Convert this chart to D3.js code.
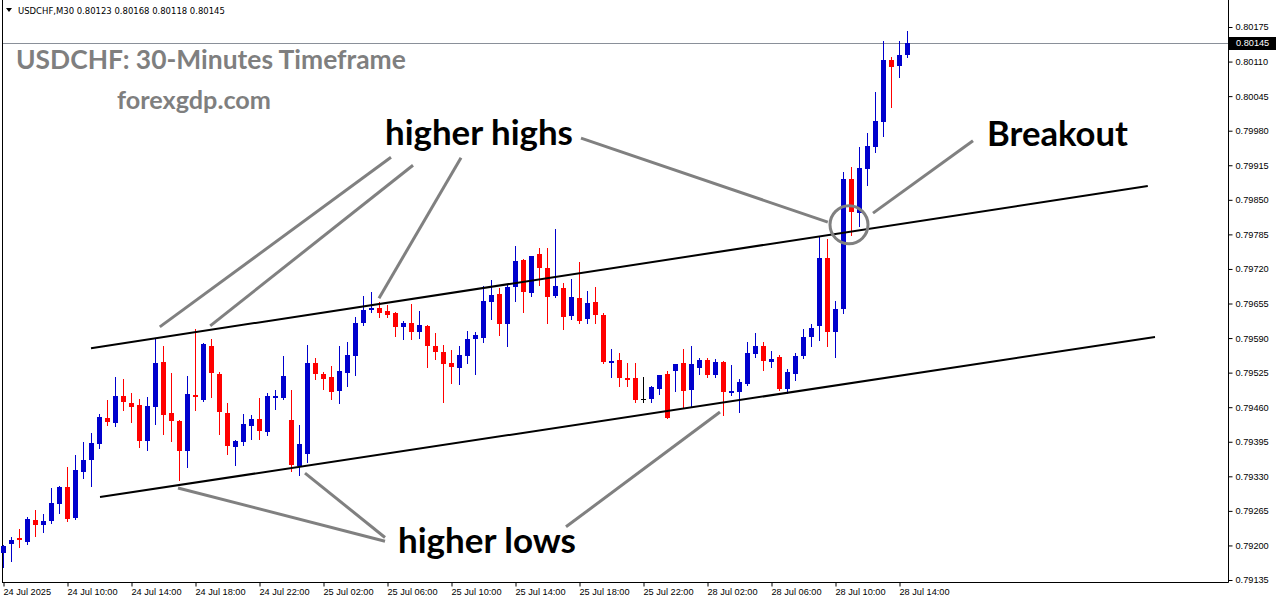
<!DOCTYPE html>
<html><head><meta charset="utf-8">
<script src="https://cdn.jsdelivr.net/npm/d3@7"></script>
<style>html,body{margin:0;padding:0;background:#fff;overflow:hidden}</style>
</head><body><svg id="c" width="1276" height="604"></svg>
<script>
// ---- data (USDCHF, M30) ----
const opens = [0.79186,0.79203,0.79214,0.79206,0.79248,0.79239,0.79246,0.79278,0.79310,0.79252,
0.79338,0.79361,0.79391,0.79440,0.79430,0.79481,0.79468,0.79464,0.79396,0.79460,
0.79545,0.79449,0.79434,0.79378,0.79482,0.79474,0.79575,0.79522,0.79449,0.79385,
0.79395,0.79425,0.79438,0.79413,0.79478,0.79477,0.79436,0.79349,0.79372,0.79543,
0.79522,0.79517,0.79490,0.79524,0.79556,0.79618,0.79643,0.79647,0.79641,0.79637,
0.79611,0.79618,0.79601,0.79613,0.79575,0.79564,0.79543,0.79534,0.79556,0.79588,
0.79590,0.79658,0.79673,0.79616,0.79686,0.79737,0.79675,0.79748,0.79722,0.79669,
0.79684,0.79631,0.79665,0.79626,0.79658,0.79633,0.79543,0.79549,0.79515,0.79515,
0.79475,0.79475,0.79494,0.79522,0.79528,0.79543,0.79492,0.79534,0.79549,0.79521,
0.79545,0.79487,0.79489,0.79504,0.79560,0.79575,0.79545,0.79554,0.79494,0.79522,
0.79556,0.79592,0.79613,0.79741,0.79601,0.79645,0.79889,0.79825,0.79908,0.79949,
0.79996,0.80113,0.80102,0.80123];
const highs = [0.79201,0.79216,0.79231,0.79254,0.79267,0.79259,0.79308,0.79312,0.79347,0.79370,
0.79395,0.79412,0.79447,0.79474,0.79517,0.79513,0.79487,0.79475,0.79479,0.79588,
0.79575,0.79524,0.79436,0.79519,0.79607,0.79580,0.79588,0.79526,0.79468,0.79398,
0.79447,0.79445,0.79477,0.79487,0.79493,0.79556,0.79492,0.79426,0.79577,0.79552,
0.79526,0.79537,0.79575,0.79583,0.79630,0.79669,0.79677,0.79658,0.79652,0.79639,
0.79622,0.79654,0.79641,0.79615,0.79600,0.79577,0.79568,0.79575,0.79603,0.79601,
0.79688,0.79699,0.79684,0.79692,0.79763,0.79738,0.79744,0.79759,0.79759,0.79795,
0.79694,0.79701,0.79733,0.79678,0.79686,0.79637,0.79569,0.79562,0.79543,0.79543,
0.79517,0.79500,0.79521,0.79528,0.79541,0.79569,0.79575,0.79552,0.79552,0.79551,
0.79546,0.79539,0.79513,0.79583,0.79600,0.79583,0.79566,0.79558,0.79532,0.79562,
0.79607,0.79616,0.79780,0.79776,0.79660,0.79902,0.79912,0.79949,0.79976,0.80053,
0.80149,0.80119,0.80149,0.80168];
const lows = [0.79159,0.79171,0.79198,0.79203,0.79218,0.79225,0.79243,0.79261,0.79246,0.79250,
0.79327,0.79312,0.79383,0.79426,0.79425,0.79455,0.79432,0.79385,0.79379,0.79428,
0.79410,0.79396,0.79323,0.79347,0.79455,0.79472,0.79479,0.79410,0.79372,0.79351,
0.79389,0.79400,0.79400,0.79408,0.79457,0.79475,0.79340,0.79332,0.79357,0.79513,
0.79494,0.79475,0.79468,0.79500,0.79521,0.79615,0.79639,0.79630,0.79630,0.79594,
0.79588,0.79588,0.79590,0.79536,0.79551,0.79470,0.79505,0.79504,0.79543,0.79522,
0.79583,0.79626,0.79596,0.79575,0.79660,0.79639,0.79669,0.79690,0.79618,0.79667,
0.79607,0.79626,0.79618,0.79618,0.79618,0.79543,0.79517,0.79500,0.79500,0.79470,
0.79470,0.79470,0.79485,0.79439,0.79490,0.79460,0.79460,0.79522,0.79517,0.79517,
0.79445,0.79483,0.79451,0.79502,0.79554,0.79530,0.79536,0.79493,0.79487,0.79511,
0.79552,0.79575,0.79586,0.79575,0.79554,0.79637,0.79784,0.79801,0.79878,0.79940,
0.79970,0.80025,0.80081,0.80118];
const closes = [0.79199,0.79210,0.79211,0.79250,0.79239,0.79246,0.79280,0.79310,0.79250,0.79342,
0.79361,0.79393,0.79442,0.79432,0.79481,0.79470,0.79460,0.79396,0.79462,0.79543,
0.79445,0.79434,0.79378,0.79485,0.79480,0.79578,0.79524,0.79451,0.79387,0.79396,
0.79428,0.79438,0.79415,0.79481,0.79481,0.79519,0.79351,0.79391,0.79543,0.79522,
0.79513,0.79489,0.79528,0.79558,0.79618,0.79643,0.79647,0.79637,0.79633,0.79611,
0.79618,0.79601,0.79615,0.79575,0.79564,0.79541,0.79536,0.79558,0.79588,0.79596,
0.79660,0.79671,0.79616,0.79686,0.79735,0.79677,0.79744,0.79722,0.79667,0.79688,
0.79630,0.79667,0.79622,0.79656,0.79633,0.79545,0.79547,0.79515,0.79511,0.79474,
0.79475,0.79498,0.79521,0.79440,0.79541,0.79490,0.79541,0.79549,0.79521,0.79545,
0.79489,0.79490,0.79507,0.79562,0.79575,0.79547,0.79551,0.79494,0.79526,0.79556,
0.79592,0.79609,0.79741,0.79601,0.79645,0.79889,0.79827,0.79910,0.79951,0.79998,
0.80113,0.80100,0.80122,0.80145];

const timeLabels = ["24 Jul 2025","24 Jul 10:00","24 Jul 14:00","24 Jul 18:00","24 Jul 22:00",
"25 Jul 02:00","25 Jul 06:00","25 Jul 10:00","25 Jul 14:00","25 Jul 18:00","25 Jul 22:00",
"28 Jul 02:00","28 Jul 06:00","28 Jul 10:00","28 Jul 14:00"];
const timeTickIdx = [0,8,16,24,32,40,48,56,64,72,80,88,96,104,112];
const priceTicks = [0.80175,0.80110,0.80045,0.79980,0.79915,0.79850,0.79785,0.79720,0.79655,
0.79590,0.79525,0.79460,0.79395,0.79330,0.79265,0.79200,0.79135];
const lastPrice = 0.80145;

// channel lines [idx1, price1, idx2, price2]
const channelLines = [[11, 0.79571, 143.1, 0.79876], [12.125, 0.79291, 144, 0.79592]];
// gray pointer lines
const pointerLines = [
  [48.5, 0.79930, 19.6, 0.79611],
  [51.25, 0.79915, 25.9, 0.79613],
  [57.25, 0.79929, 47, 0.79665],
  [72.25, 0.79966, 103.1, 0.79808],
  [121.25, 0.79961, 108.75, 0.79825],
  [47.75, 0.79208, 21.875, 0.79308],
  [47.75, 0.79215, 37.75, 0.79336],
  [70.375, 0.79235, 89.625, 0.79451]
];
const breakoutCircle = [105.75, 0.79803];
const labels = [
  {t:"higher highs", i:47.75, p:0.79953, w:188},
  {t:"Breakout", i:123, p:0.79951, w:141},
  {t:"higher lows", i:49.375, p:0.79186, w:178}
];

// ---- drawing ----
const svg = d3.select("#c");
const W = 1276, H = 604, plotR = 1228, plotB = 582;
const x = d3.scaleLinear().domain([0, 113]).range([3, 907]);
const y = d3.scaleLinear().domain([0.79135, 0.80175]).range([580, 27]);
const n = opens.length;
const idx = d3.range(n);
const BLUE = "#0000CD", RED = "#FF0000";
const colorOf = i => closes[i] > opens[i] ? BLUE : (closes[i] < opens[i] ? RED : "#000");

function fit(sel, target) {
  const w = sel.node().getComputedTextLength();
  const fs = parseFloat(sel.attr("font-size"));
  sel.attr("font-size", fs * target / w);
}

// frame
svg.append("line").attr("x1",2.5).attr("x2",2.5).attr("y1",0).attr("y2",plotB+0.5).attr("stroke","#000");
svg.append("line").attr("x1",2).attr("x2",plotR+0.5).attr("y1",plotB+0.5).attr("y2",plotB+0.5).attr("stroke","#000");
svg.append("line").attr("x1",plotR+0.5).attr("x2",plotR+0.5).attr("y1",0).attr("y2",plotB+0.5).attr("stroke","#000");

// current price line
svg.append("line").attr("x1",3).attr("x2",plotR).attr("y1",Math.round(y(lastPrice))+0.5).attr("y2",Math.round(y(lastPrice))+0.5)
  .attr("stroke","#8a9099").attr("stroke-width",1);

// header
svg.append("path").attr("d","M6,8 L12,8 L9,12 Z").attr("fill","#000");
const hdr = svg.append("text").attr("x",18).attr("y",14).attr("font-family","Tahoma, 'DejaVu Sans', sans-serif")
  .attr("font-size",11).attr("fill","#000")
  .text("USDCHF,M30  " + [opens[n-1], highs[n-1], lows[n-1], closes[n-1]].map(d3.format(".5f")).join(" "));
fit(hdr, 207);

// title texts
const tt = svg.append("text").attr("x",16).attr("y",69).attr("font-family","Lato, 'Open Sans', sans-serif")
  .attr("font-weight",700).attr("font-size",26).attr("fill","#7f7f7f").text("USDCHF: 30-Minutes Timeframe");
fit(tt, 390);
const st = svg.append("text").attr("x",117).attr("y",109).attr("font-family","Lato, 'Open Sans', sans-serif")
  .attr("font-weight",700).attr("font-size",22).attr("fill","#7f7f7f").text("forexgdp.com");
fit(st, 154);

// candles
const g = svg.append("g").attr("shape-rendering","crispEdges");
g.selectAll("line.wick").data(idx).join("line").attr("class","wick")
  .attr("x1", i => x(i)+0.5).attr("x2", i => x(i)+0.5)
  .attr("y1", i => Math.round(y(highs[i]))).attr("y2", i => Math.round(y(lows[i]))+1)
  .attr("stroke", colorOf).attr("stroke-width",1);
g.selectAll("rect.body").data(idx).join("rect").attr("class","body")
  .attr("x", i => x(i)-2).attr("width",5)
  .attr("y", i => Math.round(y(Math.max(opens[i],closes[i]))))
  .attr("height", i => Math.max(1, Math.round(y(Math.min(opens[i],closes[i]))) - Math.round(y(Math.max(opens[i],closes[i])))))
  .attr("fill", colorOf);

// channel lines
svg.selectAll("line.ch").data(channelLines).join("line").attr("class","ch")
  .attr("x1", d => x(d[0])).attr("y1", d => y(d[1])).attr("x2", d => x(d[2])).attr("y2", d => y(d[3]))
  .attr("stroke","#000").attr("stroke-width",2);

// pointer lines
svg.selectAll("line.pt").data(pointerLines).join("line").attr("class","pt")
  .attr("x1", d => x(d[0])).attr("y1", d => y(d[1])).attr("x2", d => x(d[2])).attr("y2", d => y(d[3]))
  .attr("stroke","#808080").attr("stroke-width",3);
svg.append("circle").attr("cx", x(breakoutCircle[0])).attr("cy", y(breakoutCircle[1])).attr("r",19)
  .attr("fill","none").attr("stroke","#808080").attr("stroke-width",3);

// labels
labels.forEach(l => {
  const t = svg.append("text").attr("x", x(l.i)).attr("y", y(l.p)).attr("font-family","Lato, 'Open Sans', sans-serif")
    .attr("font-weight",700).attr("font-size",32).attr("fill","#000").text(l.t);
  fit(t, l.w);
});

// axes
const AXF = "'Liberation Sans', Arial, sans-serif";
const ya = svg.append("g").attr("transform",`translate(${plotR+0.5},0)`)
  .call(d3.axisRight(y).tickValues(priceTicks).tickSize(4).tickPadding(3).tickFormat(d3.format(".5f")));
ya.select(".domain").remove();
ya.selectAll("text").attr("font-family",AXF).attr("font-size",9.2).attr("fill","#000");
ya.selectAll("line").attr("stroke","#000");

const xa = svg.append("g").attr("transform",`translate(0.5,${plotB+0.5})`)
  .call(d3.axisBottom(x).tickValues(timeTickIdx).tickSize(4).tickFormat((d,i) => timeLabels[i]));
xa.select(".domain").remove();
xa.selectAll("text").attr("font-family",AXF).attr("font-size",9.2).attr("fill","#000")
  .attr("text-anchor","start").attr("x",-0.5).attr("y",6).attr("dy","0.71em");
xa.selectAll("line").attr("stroke","#000");

// last price tag
const ly = Math.round(y(lastPrice));
svg.append("rect").attr("x",plotR+1).attr("y",ly-6).attr("width",W-plotR-1).attr("height",13).attr("fill","#000");
svg.append("text").attr("x",plotR+8).attr("y",ly).attr("dy","0.35em").attr("font-family",AXF).attr("font-size",9.2)
  .attr("fill","#fff").text(d3.format(".5f")(lastPrice));
</script></body></html>
